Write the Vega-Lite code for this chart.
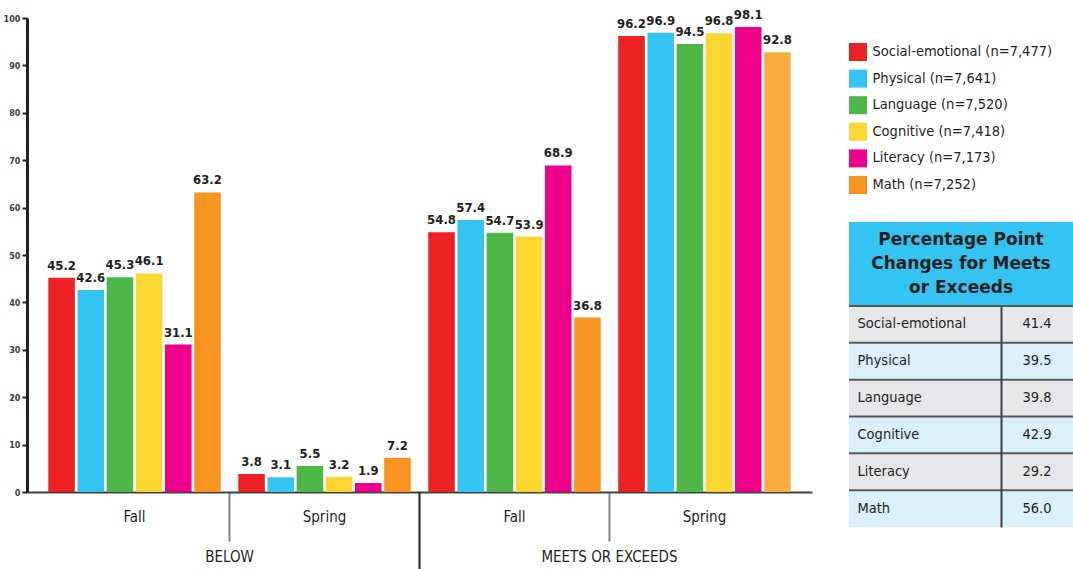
{
  "$schema": "https://vega.github.io/schema/vega-lite/v6.json",
  "padding": {"left": 3, "top": 9, "right": 0, "bottom": 0},
  "background": "white",
  "config": {
    "view": {"stroke": null},
    "font": "DejaVu Sans Condensed, sans-serif"
  },
  "datasets": {
    "scores": [
      {"level": "BELOW", "season": "Fall", "group": "BELOW|Fall", "domain": "Social-emotional", "value": 45.2},
      {"level": "BELOW", "season": "Fall", "group": "BELOW|Fall", "domain": "Physical", "value": 42.6},
      {"level": "BELOW", "season": "Fall", "group": "BELOW|Fall", "domain": "Language", "value": 45.3},
      {"level": "BELOW", "season": "Fall", "group": "BELOW|Fall", "domain": "Cognitive", "value": 46.1},
      {"level": "BELOW", "season": "Fall", "group": "BELOW|Fall", "domain": "Literacy", "value": 31.1},
      {"level": "BELOW", "season": "Fall", "group": "BELOW|Fall", "domain": "Math", "value": 63.2},
      {"level": "BELOW", "season": "Spring", "group": "BELOW|Spring", "domain": "Social-emotional", "value": 3.8},
      {"level": "BELOW", "season": "Spring", "group": "BELOW|Spring", "domain": "Physical", "value": 3.1},
      {"level": "BELOW", "season": "Spring", "group": "BELOW|Spring", "domain": "Language", "value": 5.5},
      {"level": "BELOW", "season": "Spring", "group": "BELOW|Spring", "domain": "Cognitive", "value": 3.2},
      {"level": "BELOW", "season": "Spring", "group": "BELOW|Spring", "domain": "Literacy", "value": 1.9},
      {"level": "BELOW", "season": "Spring", "group": "BELOW|Spring", "domain": "Math", "value": 7.2},
      {"level": "MEETS OR EXCEEDS", "season": "Fall", "group": "MEETS OR EXCEEDS|Fall", "domain": "Social-emotional", "value": 54.8},
      {"level": "MEETS OR EXCEEDS", "season": "Fall", "group": "MEETS OR EXCEEDS|Fall", "domain": "Physical", "value": 57.4},
      {"level": "MEETS OR EXCEEDS", "season": "Fall", "group": "MEETS OR EXCEEDS|Fall", "domain": "Language", "value": 54.7},
      {"level": "MEETS OR EXCEEDS", "season": "Fall", "group": "MEETS OR EXCEEDS|Fall", "domain": "Cognitive", "value": 53.9},
      {"level": "MEETS OR EXCEEDS", "season": "Fall", "group": "MEETS OR EXCEEDS|Fall", "domain": "Literacy", "value": 68.9},
      {"level": "MEETS OR EXCEEDS", "season": "Fall", "group": "MEETS OR EXCEEDS|Fall", "domain": "Math", "value": 36.8},
      {"level": "MEETS OR EXCEEDS", "season": "Spring", "group": "MEETS OR EXCEEDS|Spring", "domain": "Social-emotional", "value": 96.2},
      {"level": "MEETS OR EXCEEDS", "season": "Spring", "group": "MEETS OR EXCEEDS|Spring", "domain": "Physical", "value": 96.9},
      {"level": "MEETS OR EXCEEDS", "season": "Spring", "group": "MEETS OR EXCEEDS|Spring", "domain": "Language", "value": 94.5},
      {"level": "MEETS OR EXCEEDS", "season": "Spring", "group": "MEETS OR EXCEEDS|Spring", "domain": "Cognitive", "value": 96.8},
      {"level": "MEETS OR EXCEEDS", "season": "Spring", "group": "MEETS OR EXCEEDS|Spring", "domain": "Literacy", "value": 98.1},
      {"level": "MEETS OR EXCEEDS", "season": "Spring", "group": "MEETS OR EXCEEDS|Spring", "domain": "Math", "value": 92.8}
    ],
    "legend": [
      {"domain": "Social-emotional", "label": "Social-emotional (n=7,477)"},
      {"domain": "Physical", "label": "Physical (n=7,641)"},
      {"domain": "Language", "label": "Language (n=7,520)"},
      {"domain": "Cognitive", "label": "Cognitive (n=7,418)"},
      {"domain": "Literacy", "label": "Literacy (n=7,173)"},
      {"domain": "Math", "label": "Math (n=7,252)"}
    ],
    "changes": [
      {"domain": "Social-emotional", "change": 41.4},
      {"domain": "Physical", "change": 39.5},
      {"domain": "Language", "change": 39.8},
      {"domain": "Cognitive", "change": 42.9},
      {"domain": "Literacy", "change": 29.2},
      {"domain": "Math", "change": 56.0}
    ]
  },
  "bounds": "flush",
  "spacing": 37,
  "hconcat": [
    {
      "width": 785,
      "height": 474,
      "data": {"name": "scores"},
      "layer": [
        {
          "layer": [
            {
              "mark": {"type": "bar"},
              "encoding": {
                "x": {
                  "field": "group", "type": "nominal", "sort": null,
                  "scale": {"paddingInner": 0, "paddingOuter": 0.066},
                  "axis": {
                    "orient": "bottom", "title": null,
                    "labelExpr": "split(datum.value, '|')[1]",
                    "labelFontSize": 15, "labelColor": "#231F20", "labelPadding": -32, "labelAngle": 0,
                    "domainColor": "#414042", "domainWidth": 2,
                    "bandPosition": 0, "tickWidth": 2, "tickSize": 49, "tickColor": "#808285",
                    "tickOpacity": {"condition": {"test": "datum.value == 'BELOW|Fall' || datum.value == 'MEETS OR EXCEEDS|Fall'", "value": 0}, "value": 1}
                  }
                },
                "xOffset": {
                  "field": "domain", "type": "nominal", "sort": null,
                  "scale": {"paddingInner": 0.09, "paddingOuter": 0.3}
                },
                "y": {
                  "field": "value", "type": "quantitative",
                  "scale": {"domain": [0, 100], "nice": false},
                  "axis": {
                    "title": null, "grid": false, "values": [0, 10, 20, 30, 40, 50, 60, 70, 80, 90, 100],
                    "labelFontSize": 9, "labelFontWeight": "bold", "labelColor": "#414042", "labelPadding": 2,
                    "domainColor": "#231F20", "domainWidth": 3,
                    "tickColor": "#231F20", "tickWidth": 2, "tickSize": 5
                  }
                },
                "color": {
                  "condition": {"test": "datum.level == 'MEETS OR EXCEEDS' && datum.season == 'Spring' && datum.domain == 'Math'", "value": "#FBAE40"},
                  "field": "domain", "type": "nominal", "sort": null,
                  "scale": {
                    "domain": ["Social-emotional", "Physical", "Language", "Cognitive", "Literacy", "Math"],
                    "range": ["#EE2224", "#33C4F2", "#4DB848", "#FCD730", "#EC008C", "#F7941D"]
                  },
                  "legend": null
                }
              }
            },
            {
              "mark": {"type": "text", "baseline": "bottom", "dy": -5, "fontSize": 13, "fontWeight": "bold", "color": "#231F20"},
              "encoding": {
                "x": {"field": "group", "type": "nominal", "sort": null},
                "xOffset": {"field": "domain", "type": "nominal", "sort": null},
                "y": {"field": "value", "type": "quantitative"},
                "text": {"field": "value", "type": "quantitative", "format": ".1f"}
              }
            }
          ]
        },
        {
          "mark": {"type": "rule", "opacity": 0},
          "encoding": {
            "x": {
              "field": "level", "type": "nominal", "sort": null,
              "scale": {"paddingInner": 0, "paddingOuter": 0.033},
              "axis": {
                "orient": "bottom", "title": null, "domain": false, "labelAngle": 0,
                "bandPosition": 0, "tickSize": 77, "tickWidth": 2, "tickColor": "#231F20",
                "tickOpacity": {"condition": {"test": "datum.value == 'BELOW'", "value": 0}, "value": 1},
                "labelPadding": -20, "labelFontSize": 15, "labelColor": "#231F20"
              }
            }
          }
        }
      ],
      "resolve": {"scale": {"x": "independent"}, "axis": {"x": "independent"}}
    },
    {
      "spacing": 3,
      "bounds": "flush",
      "vconcat": [
        {
          "width": 18,
          "height": 201,
          "data": {"name": "legend"},
          "mark": {"type": "rect"},
          "encoding": {
            "y": {
              "field": "label", "type": "nominal", "sort": null,
              "scale": {"paddingInner": 0.323, "paddingOuter": 0.94},
              "axis": {
                "orient": "right", "title": null, "domain": false, "ticks": false,
                "labelPadding": 5, "labelFontSize": 14.5, "labelColor": "#231F20", "labelLimit": 300
              }
            },
            "color": {
              "field": "domain", "type": "nominal", "sort": null,
              "scale": {
                "domain": ["Social-emotional", "Physical", "Language", "Cognitive", "Literacy", "Math"],
                "range": ["#EE2224", "#33C4F2", "#4DB848", "#FCD730", "#EC008C", "#F7941D"]
              },
              "legend": null
            }
          }
        },
        {
          "spacing": 0,
          "bounds": "flush",
          "vconcat": [
            {
              "width": 224,
              "height": 84,
              "data": {"values": [{"heading": "Percentage Point\nChanges for Meets\nor Exceeds"}]},
              "layer": [
                {"mark": {"type": "rect", "color": "#33C4F1"}, "encoding": {}},
                {
                  "mark": {"type": "text", "lineBreak": "\n", "font": "DejaVu Sans", "fontWeight": "bold", "fontSize": 17, "lineHeight": 24, "dy": -24, "color": "#231F20"},
                  "encoding": {"text": {"field": "heading"}}
                }
              ]
            },
            {
              "spacing": 0,
              "bounds": "flush",
              "hconcat": [
                {
                  "width": 152,
                  "height": 221,
                  "data": {"name": "changes"},
                  "layer": [
                    {
                      "mark": {"type": "rect"},
                      "encoding": {
                        "y": {
                          "field": "domain", "type": "nominal", "sort": null,
                          "scale": {"paddingInner": 0, "paddingOuter": 0},
                          "axis": {
                            "orient": "left", "title": null, "domain": false, "ticks": false,
                            "labelAlign": "left", "labelPadding": -8, "labelFontSize": 14.5,
                            "labelColor": "#231F20", "labelLimit": 200, "zindex": 1
                          }
                        },
                        "color": {"condition": {"test": "indexof(['Physical', 'Cognitive', 'Math'], datum.domain) >= 0", "value": "#DAF0FA"}, "value": "#E6E7E8"}
                      }
                    },
                    {
                      "mark": {"type": "rule", "color": "#58595B", "strokeWidth": 2},
                      "encoding": {"y": {"field": "domain", "type": "nominal", "sort": null, "bandPosition": 0}}
                    }
                  ]
                },
                {
                  "width": 72,
                  "height": 221,
                  "data": {"name": "changes"},
                  "layer": [
                    {
                      "mark": {"type": "rect"},
                      "encoding": {
                        "y": {
                          "field": "domain", "type": "nominal", "sort": null,
                          "scale": {"paddingInner": 0, "paddingOuter": 0},
                          "axis": {
                            "orient": "left", "title": null, "labels": false, "ticks": false,
                            "domain": true, "domainColor": "#414042", "domainWidth": 2, "zindex": 1
                          }
                        },
                        "color": {"condition": {"test": "indexof(['Physical', 'Cognitive', 'Math'], datum.domain) >= 0", "value": "#DAF0FA"}, "value": "#E6E7E8"}
                      }
                    },
                    {
                      "mark": {"type": "rule", "color": "#58595B", "strokeWidth": 2},
                      "encoding": {"y": {"field": "domain", "type": "nominal", "sort": null, "bandPosition": 0}}
                    },
                    {
                      "mark": {"type": "text", "fontSize": 14.5, "color": "#231F20"},
                      "encoding": {
                        "y": {"field": "domain", "type": "nominal", "sort": null},
                        "text": {"field": "change", "type": "quantitative", "format": ".1f"}
                      }
                    }
                  ]
                }
              ]
            }
          ]
        }
      ]
    }
  ]
}
